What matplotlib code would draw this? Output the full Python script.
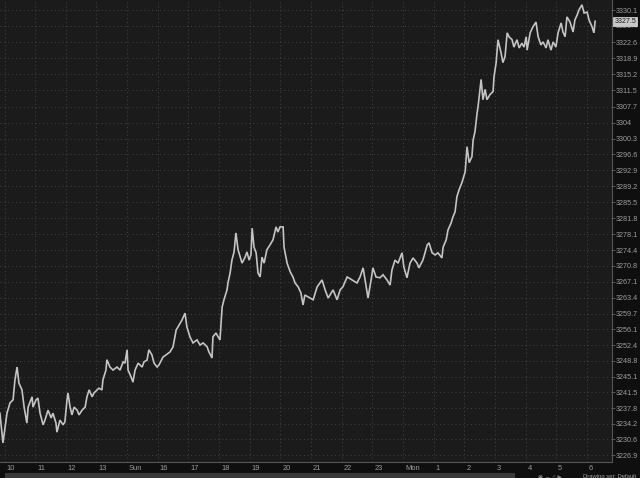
import numpy as np
import matplotlib.pyplot as plt
from matplotlib.patches import Rectangle
from matplotlib import transforms

plt.rcParams['font.family'] = ['Liberation Sans', 'DejaVu Sans']

# hours since the "10" mark, and price
hours = [-0.15, -0.05, 0.02, 0.08, 0.18, 0.28, 0.34, 0.41, 0.47, 0.57, 0.64, 0.73, 0.77, 0.90, 0.93,
         1.03, 1.09, 1.16, 1.26, 1.32, 1.42, 1.52, 1.58, 1.68, 1.71, 1.81, 1.91, 1.97, 2.04, 2.07,
         2.14, 2.20, 2.27, 2.37, 2.43, 2.53, 2.63, 2.69, 2.76, 2.86, 2.92, 3.02, 3.08, 3.18, 3.21,
         3.31, 3.34, 3.44, 3.54, 3.67, 3.77, 3.87, 3.93, 4.00, 4.03, 4.13, 4.19, 4.26, 4.36, 4.49,
         4.55, 4.65, 4.71, 4.81, 4.88, 4.98, 5.04, 5.17, 5.40, 5.50, 5.60, 5.66, 5.79, 5.89, 5.95,
         6.05, 6.15, 6.28, 6.38, 6.48, 6.61, 6.67, 6.77, 6.80, 6.90, 6.97, 7.03, 7.10, 7.16, 7.26,
         7.29, 7.36, 7.42, 7.49, 7.55, 7.62, 7.75, 7.85, 7.91, 7.98, 8.04, 8.08, 8.14, 8.21, 8.27,
         8.34, 8.40, 8.47, 8.56, 8.66, 8.76, 8.86, 8.92, 8.99, 9.09, 9.12, 9.22, 9.32, 9.41, 9.48,
         9.58, 9.67, 9.74, 9.80, 9.90, 10.07, 10.20, 10.36, 10.46, 10.56, 10.72, 10.85, 10.95, 11.04,
         11.18, 11.34, 11.50, 11.60, 11.70, 11.80, 11.86, 11.96, 12.02, 12.12, 12.25, 12.35, 12.48,
         12.58, 12.64, 12.74, 12.84, 12.97, 13.03, 13.13, 13.23, 13.33, 13.46, 13.52, 13.65, 13.72,
         13.79, 13.85, 13.95, 14.05, 14.14, 14.27, 14.31, 14.41, 14.47, 14.57, 14.63, 14.70, 14.76,
         14.83, 14.93, 15.03, 15.09, 15.16, 15.25, 15.29, 15.35, 15.42, 15.45, 15.55, 15.61, 15.68,
         15.74, 15.84, 15.94, 15.97, 16.04, 16.10, 16.20, 16.26, 16.33, 16.40, 16.46, 16.56, 16.62,
         16.72, 16.79, 16.88, 16.95, 17.02, 17.05, 17.15, 17.24, 17.34, 17.41, 17.50, 17.57, 17.67,
         17.73, 17.83, 17.90, 17.99, 18.06, 18.16, 18.22, 18.29, 18.35, 18.45, 18.55, 18.61, 18.68,
         18.74, 18.84, 18.91, 19.01, 19.07, 19.17, 19.23, 19.27]

price = [3236.6, 3229.7, 3233.4, 3236.6, 3239.0, 3239.7, 3244.3, 3247.3, 3243.6, 3242.0, 3238.0, 3234.3, 3238.0, 3240.4, 3238.0,
         3239.7, 3240.1, 3236.6, 3233.9, 3235.0, 3237.3, 3235.5, 3236.6, 3234.3, 3232.2, 3235.0, 3233.9, 3234.6, 3239.7, 3241.3,
         3238.0, 3236.2, 3238.0, 3237.3, 3236.2, 3237.3, 3238.0, 3240.4, 3242.0, 3240.4, 3241.3, 3242.0, 3242.4, 3242.0, 3244.3,
         3246.6, 3249.0, 3247.3, 3246.6, 3247.3, 3246.6, 3248.5, 3248.2, 3251.3, 3246.6, 3245.0, 3243.8, 3246.6, 3248.2, 3247.3,
         3248.5, 3248.9, 3251.3, 3250.1, 3248.2, 3247.3, 3247.8, 3249.6, 3250.8, 3252.0, 3255.9, 3256.6, 3258.2, 3259.8, 3256.6,
         3254.3, 3252.9, 3253.6, 3252.4, 3252.9, 3252.0, 3250.8, 3249.4, 3254.3, 3255.2, 3254.3, 3253.6, 3261.2, 3262.9, 3265.2,
         3266.8, 3269.1, 3272.1, 3274.0, 3278.4, 3274.5, 3271.4, 3272.8, 3274.0, 3272.1, 3273.3, 3279.5, 3275.1, 3273.8, 3269.1,
         3268.2, 3272.8, 3271.4, 3274.5, 3275.6, 3276.8, 3279.8, 3278.6, 3279.8, 3279.8, 3275.1, 3271.4, 3269.4, 3268.2, 3266.8,
         3265.9, 3264.5, 3261.7, 3264.0, 3263.6, 3262.9, 3265.9, 3267.5, 3265.2, 3263.3, 3265.2, 3262.9, 3265.2, 3265.9,
         3268.2, 3267.5, 3266.8, 3268.2, 3270.3, 3265.9, 3263.3, 3267.5, 3270.3, 3268.2, 3268.0, 3268.7, 3267.5,
         3266.3, 3269.8, 3272.1, 3271.4, 3273.8, 3270.5, 3268.0, 3271.4, 3272.6, 3271.4, 3270.3, 3272.1, 3273.8,
         3275.6, 3276.1, 3273.8, 3273.3, 3273.8, 3272.6, 3275.1, 3276.8, 3279.1, 3280.7, 3282.1, 3283.3, 3286.8,
         3288.4, 3290.2, 3292.6, 3298.4, 3294.7, 3296.1, 3300.0, 3301.9, 3306.3, 3307.7, 3314.0, 3309.3, 3311.7,
         3309.3, 3310.5, 3311.2, 3314.6, 3317.9, 3323.2, 3320.2, 3317.9, 3319.3, 3324.8, 3323.9, 3323.2, 3321.5,
         3323.2, 3321.3, 3322.4, 3321.5, 3323.9, 3320.8, 3324.8, 3326.2, 3327.3, 3323.9, 3322.0, 3322.7, 3321.3,
         3323.2, 3320.8, 3322.7, 3321.5, 3324.8, 3327.1, 3325.0, 3323.9, 3328.5, 3327.3, 3325.0, 3327.8, 3328.9,
         3330.1, 3331.3, 3329.4, 3329.6, 3327.8, 3326.2, 3324.8, 3327.5]

x_labels = ['10', '11', '12', '13', 'Sun', '16', '17', '18', '19', '20',
            '21', '22', '23', 'Mon', '1', '2', '3', '4', '5', '6']
y_labels = ['3330.1', '3326.4', '3322.6', '3318.9', '3315.2', '3311.5', '3307.7', '3304',
            '3300.3', '3296.6', '3292.9', '3289.2', '3285.5', '3281.8', '3278.1', '3274.4',
            '3270.8', '3267.1', '3263.4', '3259.7', '3256.1', '3252.4', '3248.8', '3245.1',
            '3241.5', '3237.8', '3234.2', '3230.6', '3226.9']
last_price = 3327.5

W, H = 640, 478
fig = plt.figure(figsize=(W / 100, H / 100), dpi=100, facecolor='#0f0f0f')
ax = fig.add_axes([0, 1 - 462 / H, 612 / W, 462 / H])
ax.set_facecolor('#1b1b1b')

ax.plot(hours, price, color='#c4c4c4', lw=1.2, solid_joinstyle='miter')

ax.set_xlim(-0.147, 19.82)
ax.set_ylim(3225.28, 3332.42)

ax.set_xticks(range(len(x_labels)))
ax.set_xticklabels(x_labels)
ax.set_yticks([float(v) for v in y_labels])
ax.set_yticklabels(y_labels)
ax.yaxis.tick_right()

ax.tick_params(axis='y', length=2, width=0.6, color='#666666', labelcolor='#9c9c9c',
               labelsize=5.2, pad=1)
ax.tick_params(axis='x', length=0, labelcolor='#9c9c9c', labelsize=5.4, pad=2)
off = transforms.ScaledTranslation(2 / 100, 0, fig.dpi_scale_trans)
for lab in ax.get_xticklabels():
    lab.set_horizontalalignment('left')
    lab.set_transform(lab.get_transform() + off)

ax.grid(True, color='#454545', linestyle=(0, (1, 3)), linewidth=0.7)
for s in ['top', 'left']:
    ax.spines[s].set_visible(False)
for s in ['bottom', 'right']:
    ax.spines[s].set_color('#555555')
    ax.spines[s].set_linewidth(0.8)

# last price marker on the price axis
ax.text(1.004, last_price, '3327.5', transform=ax.get_yaxis_transform(), fontsize=5.0,
        color='#1a1a1a', va='center', ha='left',
        bbox=dict(boxstyle='square,pad=0.15', fc='#c8c8c8', ec='#e0e0e0', lw=0.5))

# scrollbar strip and status text
fig.patches.append(Rectangle((5 / W, 0), 510 / W, 5 / H, transform=fig.transFigure,
                             fc='#3a3a3a', ec='none'))
fig.text(538 / W, -1 / H, '◉ ⇔ ○ ▶', color='#8a8a8a', fontsize=4.2, va='bottom')
fig.text(583 / W, -1 / H, 'Drawing set: Default', color='#a0a0a0', fontsize=4.2, va='bottom')

fig.savefig('out.png', dpi=100, facecolor=fig.get_facecolor())
